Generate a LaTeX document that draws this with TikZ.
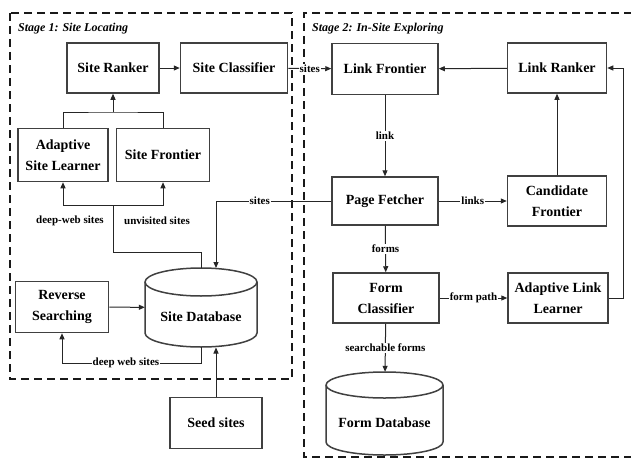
\documentclass[tikz,border=0pt]{standalone}
\usepackage{fontspec}
\setmainfont{Liberation Serif}
\usetikzlibrary{arrows.meta,calc}
\begin{document}
\begin{tikzpicture}[x=1pt,y=-1pt,
 box/.style={draw=black!75,line width=1.5pt,fill=white,align=center,
   font=\bfseries\fontsize{14}{21}\selectfont,inner sep=0pt},
 lbl/.style={font=\bfseries\fontsize{11}{12}\selectfont,fill=white,inner sep=1pt},
 free/.style={font=\bfseries\fontsize{11}{12}\selectfont,inner sep=0pt},
 conn/.style={draw=black!85,line width=1pt},
 arr/.style={conn,-{Triangle[length=6pt,width=5pt]}},
 stage/.style={draw=black!90,line width=2pt,dash pattern=on 8pt off 5pt},
 title/.style={font=\bfseries\itshape\fontsize{12}{14}\selectfont,anchor=west,inner sep=0pt},
 cyl/.style={draw=black!75,line width=1.5pt,fill=white},
 dbtext/.style={font=\bfseries\fontsize{14}{16}\selectfont,inner sep=0pt},
 hidden/.style={inner sep=0pt}
]
\useasboundingbox (0,0) rectangle (631,460);
\fill[white] (0,0) rectangle (631,460);
% stage frames
\draw[stage] (10,13) rectangle (292,379);
\draw[stage] (645,13) -- (304,13) -- (304,457) -- (645,457);
\node[title] (t1) at (18,29) {Stage 1: Site Locating};
\node[title] (t2) at (312,29) {Stage 2: In-Site Exploring};

% stage 1 boxes
\node[box,minimum width=92pt,minimum height=50pt] (sr) at (113,68) {Site Ranker};
\node[box,minimum width=107pt,minimum height=50pt] (sc) at (234,68) {Site Classifier};
\node[box,minimum width=90pt,minimum height=53pt] (asl) at (63,155) {Adaptive\\Site Learner};
\node[box,minimum width=93pt,minimum height=53pt] (sf) at (163,155) {Site Frontier};
\node[box,minimum width=93pt,minimum height=51pt] (rs) at (62,307) {Reverse\\Searching};
\node[box,minimum width=92pt,minimum height=51pt] (ss) at (216,423) {Seed sites};

% site database cylinder
\path[cyl] (145,282) -- (145,333) arc[start angle=180,end angle=360,x radius=56pt,y radius=14pt]
  -- (257,282) arc[start angle=0,end angle=180,x radius=56pt,y radius=14pt] -- cycle;
\draw[cyl,fill=none] (145,282) arc[start angle=180,end angle=360,x radius=56pt,y radius=14pt];
\node[hidden,minimum width=112pt,minimum height=79pt] (sdb) at (201,307.5) {};
\node[dbtext] (sdbt) at (201,317) {Site Database};
\coordinate (sdbin) at (216,268);
\coordinate (sdbbot) at (216,347.5);

% stage 2 boxes
\node[box,minimum width=106pt,minimum height=51pt] (lf) at (385,69) {Link Frontier};
\node[box,minimum width=99pt,minimum height=50pt] (lr) at (557,68) {Link Ranker};
\node[box,minimum width=106pt,minimum height=48pt] (pf) at (385,201) {Page Fetcher};
\node[box,minimum width=99pt,minimum height=50pt] (cf) at (557,201) {Candidate\\Frontier};
\node[box,minimum width=106pt,minimum height=50pt] (fc) at (386,298) {Form\\Classifier};
\node[box,minimum width=100pt,minimum height=50pt] (all) at (558,298) {Adaptive Link\\Learner};

% form database cylinder
\path[cyl] (326,385) -- (326,442) arc[start angle=180,end angle=360,x radius=58.5pt,y radius=13pt]
  -- (443,385) arc[start angle=0,end angle=180,x radius=58.5pt,y radius=13pt] -- cycle;
\draw[cyl,fill=none] (326,385) arc[start angle=180,end angle=360,x radius=58.5pt,y radius=13pt];
\node[hidden,minimum width=117pt,minimum height=83pt] (fdb) at (384.5,413.5) {};
\node[dbtext] (fdbt) at (384.5,423) {Form Database};

% stage 1 connectors
\draw[arr] (sr) -- (sc);
\coordinate (j1) at (113,112);
\draw[conn] (asl.north) |- (j1) -| (sf.north);
\draw[arr] (j1) -- (sr.south);
\coordinate (j2) at (113,205);
\draw[arr] (j2) -| (asl.south);
\draw[arr] (j2) -| (sf.south);
\draw[conn] (sdb.north) -- ++(0,-15) -| (j2);
\node[free] (l1) at (70,221) {deep-web sites};
\node[free] (l2) at (157,221) {unvisited sites};
\draw[arr] (rs) -- (sdb);
\draw[arr] (sdb.south) -- ++(0,16) -| node[lbl,pos=0.27]{deep web sites} (rs.south);
\draw[arr] (ss) -- (sdbbot);

% stage 2 connectors
\draw[arr] (sc) -- node[lbl]{sites} (lf);
\draw[arr] (lr) -- (lf);
\draw[arr] (lf) -- node[lbl]{link} (pf);
\draw[arr] (pf) -- node[lbl]{links} (cf);
\draw[arr] (cf) -- (lr);
\draw[arr] (pf) -- node[lbl]{forms} (fc);
\draw[arr] (fc) -- node[lbl]{form path} (all);
\draw[arr] (all.east) -- ++(15,0) |- (lr.east);
\draw[arr] (fc) -- node[lbl]{searchable forms} (fdb);
\draw[arr] (pf.west) -| node[lbl,pos=0.31]{sites} (sdbin);
\end{tikzpicture}
\end{document}
